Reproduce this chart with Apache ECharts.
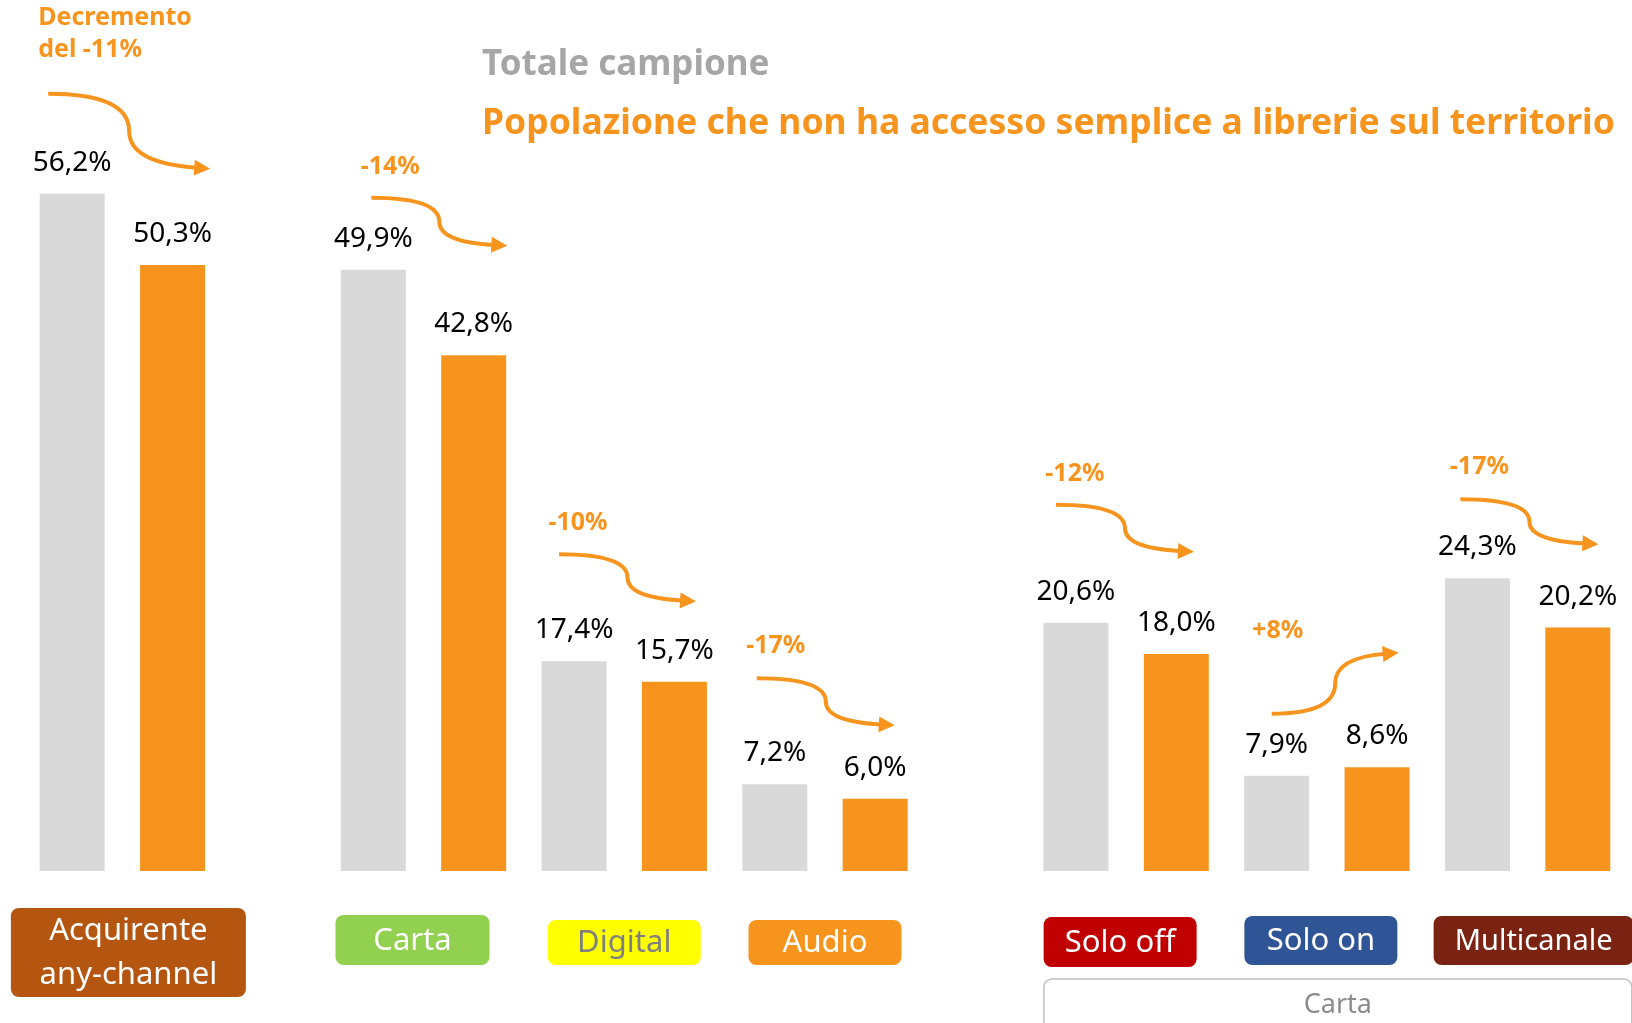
<!DOCTYPE html>
<html>
<head>
<meta charset="utf-8">
<title>Totale campione vs popolazione senza accesso a librerie</title>
<script src="https://cdn.jsdelivr.net/npm/echarts@6/dist/echarts.min.js"></script>
<style>
  html, body { margin: 0; padding: 0; background: #fff; }
  #chart { width: 1632px; height: 1023px; }
</style>
</head>
<body>
<div id="chart"></div>
<script>
// gruppi (etichette nei box in basso)
const groups = ['Acquirente\nany-channel', 'Carta', 'Digital', 'Audio', 'Solo off', 'Solo on', 'Multicanale']
// valori in %
const totale = [56.2, 49.9, 17.4, 7.2, 20.6, 7.9, 24.3]
const popolazione = [50.3, 42.8, 15.7, 6.0, 18.0, 8.6, 20.2]
// variazioni scritte sopra le frecce
const variazioni = ['Decremento\ndel -11%', '-14%', '-10%', '-17%', '-12%', '+8%', '-17%']
// slot della barra grigia di ogni gruppo (slot vuoti tra i blocchi)
const slotGray = [0, 3, 5, 7, 10, 12, 14]
const slotCount = 16

const ORANGE = '#F7941D'
const GRAY = '#D9D9D9'
const FONT = '"Noto Sans", sans-serif'

const groupColors = ['#B45510', '#92D050', '#FFFF00', '#F7941D', '#C00000', '#2F5597', '#7B2312']
const groupTextColors = ['#fff', '#fff', '#7F7F7F', '#fff', '#fff', '#fff', '#fff']

// frecce: spostamento dal centro della barra grigia, altezza sopra la barra, larghezza, dislivello
const arrowDx = [-24, -2, -15, -18, -20, -5, -17]
const arrowLift = [100, 72, 107, 106, 118, 62, 79]
const arrowW = [162, 136, 137, 138, 138, 127, 138]
const arrowH = [75, 48, 47, 47, 47, -61, 45]
const labelDx = [-10, 19, 19, 19, 19, 6, 19]
const labelDy = [-60, -31, -31, -32, -31, -83, -32]
// box delle etichette
const boxDx = [6, -11, 0, 0, -6, -6, 6]
const boxW = [235, 154, 153, 153, 153, 153, 200]
const boxH = [89, 50, 45, 45, 50, 49, 49]
const boxTop = [37, 44, 49, 49, 46, 45, 45]
const boxFontSize = [31, 31, 31, 31, 31, 31, 29]

const grayData = new Array(slotCount).fill('-')
const orangeData = new Array(slotCount).fill('-')
slotGray.forEach((s, i) => {
  grayData[s] = totale[i]
  orangeData[s + 1] = popolazione[i]
})
const slots = Array.from({ length: slotCount }, (_, i) => 's' + i)

const fmt = (p) => p.value.toFixed(1).replace('.', ',') + '%'

function renderGroup(params, api) {
  const i = api.value(4)
  const pg = api.coord([api.value(0), api.value(2)])
  const base = api.coord([api.value(0), 0])
  const po = api.coord([api.value(1), 0])
  const cx = (pg[0] + po[0]) / 2

  // freccia curva
  const sx = pg[0] + arrowDx[i]
  const sy = pg[1] - arrowLift[i]
  const w = arrowW[i]
  const h = arrowH[i]
  const tip = [sx + w, sy + h]
  const ctrl = [sx + 0.5 * w, sy + 0.92 * h]
  let dx = tip[0] - ctrl[0]
  let dy = tip[1] - ctrl[1]
  const len = Math.hypot(dx, dy)
  dx /= len
  dy /= len
  const headL = 16
  const headW = 8
  const bx = tip[0] - dx * headL
  const by = tip[1] - dy * headL
  const pathData = 'M' + sx + ',' + sy +
    ' Q' + (sx + 0.5 * w) + ',' + sy + ' ' + (sx + 0.5 * w) + ',' + (sy + 0.5 * h) +
    ' Q' + ctrl[0] + ',' + ctrl[1] + ' ' + (bx + dx * 2) + ',' + (by + dy * 2)

  const multi = variazioni[i].indexOf('\n') >= 0
  const bxLeft = cx + boxDx[i] - boxW[i] / 2
  const byTop = base[1] + boxTop[i]

  return {
    type: 'group',
    children: [
      {
        type: 'path',
        shape: { pathData: pathData },
        style: { fill: 'none', stroke: ORANGE, lineWidth: 4 }
      },
      {
        type: 'polygon',
        shape: {
          points: [
            tip,
            [bx - dy * headW, by + dx * headW],
            [bx + dy * headW, by - dx * headW]
          ]
        },
        style: { fill: ORANGE }
      },
      {
        type: 'text',
        style: {
          text: variazioni[i],
          x: sx + labelDx[i],
          y: sy + labelDy[i],
          align: multi ? 'left' : 'center',
          verticalAlign: 'middle',
          fontFamily: FONT,
          fontWeight: 'bold',
          fontSize: 25,
          lineHeight: 32,
          fill: ORANGE
        }
      },
      {
        type: 'rect',
        shape: { x: bxLeft, y: byTop, width: boxW[i], height: boxH[i], r: 8 },
        style: { fill: groupColors[i] }
      },
      {
        type: 'text',
        style: {
          text: groups[i],
          x: cx + boxDx[i],
          y: byTop + boxH[i] / 2 + 1,
          align: 'center',
          verticalAlign: 'middle',
          fontFamily: FONT,
          fontSize: boxFontSize[i],
          lineHeight: 44,
          fill: groupTextColors[i]
        }
      }
    ]
  }
}

// riquadro "Carta" sotto i gruppi Solo off / Solo on / Multicanale
function renderBracket(params, api) {
  const left = api.coord([api.value(0), 0])
  const right = api.coord([api.value(1), 0])
  const x0 = left[0] - 32
  const x1 = right[0] + 54
  const y0 = left[1] + 108
  return {
    type: 'group',
    children: [
      {
        type: 'rect',
        shape: { x: x0, y: y0, width: x1 - x0, height: 80, r: 8 },
        style: { fill: 'none', stroke: '#BFBFBF', lineWidth: 1.5 }
      },
      {
        type: 'text',
        style: {
          text: 'Carta',
          x: (x0 + x1) / 2,
          y: y0 + 26,
          align: 'center',
          verticalAlign: 'middle',
          fontFamily: FONT,
          fontSize: 27,
          fill: '#8C8C8C'
        }
      }
    ]
  }
}

const chart = echarts.init(document.getElementById('chart'))

const option = {
  animation: false,
  backgroundColor: '#fff',
  textStyle: { fontFamily: FONT },
  grid: { left: 22, right: 4, top: 148, bottom: 152 },
  xAxis: {
    type: 'category',
    data: slots,
    show: false
  },
  yAxis: {
    type: 'value',
    min: 0,
    max: 60,
    show: false
  },
  graphic: [
    {
      type: 'text',
      x: 482,
      y: 65,
      style: {
        text: 'Totale campione',
        verticalAlign: 'middle',
        fontFamily: FONT,
        fontWeight: 'bold',
        fontSize: 35,
        fill: '#A6A6A6'
      }
    },
    {
      type: 'text',
      x: 482,
      y: 124,
      style: {
        text: 'Popolazione che non ha accesso semplice a librerie sul territorio',
        verticalAlign: 'middle',
        fontFamily: FONT,
        fontWeight: 'bold',
        fontSize: 35.5,
        fill: ORANGE
      }
    }
  ],
  series: [
    {
      name: 'Totale campione',
      type: 'bar',
      data: grayData,
      barWidth: 65,
      barGap: '-100%',
      itemStyle: { color: GRAY },
      label: {
        show: true,
        position: 'top',
        distance: 16,
        formatter: fmt,
        color: '#000',
        fontFamily: FONT,
        fontSize: 28,
        lineHeight: 30
      }
    },
    {
      name: 'Popolazione che non ha accesso semplice a librerie sul territorio',
      type: 'bar',
      data: orangeData,
      barWidth: 65,
      barGap: '-100%',
      itemStyle: { color: ORANGE },
      label: {
        show: true,
        position: 'top',
        distance: 16,
        formatter: fmt,
        color: '#000',
        fontFamily: FONT,
        fontSize: 28,
        lineHeight: 30
      }
    },
    {
      type: 'custom',
      renderItem: renderGroup,
      clip: false,
      silent: true,
      z: 5,
      encode: { x: 0, y: 2 },
      data: groups.map((g, i) => [slotGray[i], slotGray[i] + 1, totale[i], popolazione[i], i])
    },
    {
      type: 'custom',
      renderItem: renderBracket,
      clip: false,
      silent: true,
      z: 4,
      encode: { x: 0, y: 2 },
      data: [[slotGray[4], slotCount - 1, 0]]
    }
  ]
}

chart.setOption(option)
window.addEventListener('resize', () => chart.resize())
</script>
</body>
</html>
